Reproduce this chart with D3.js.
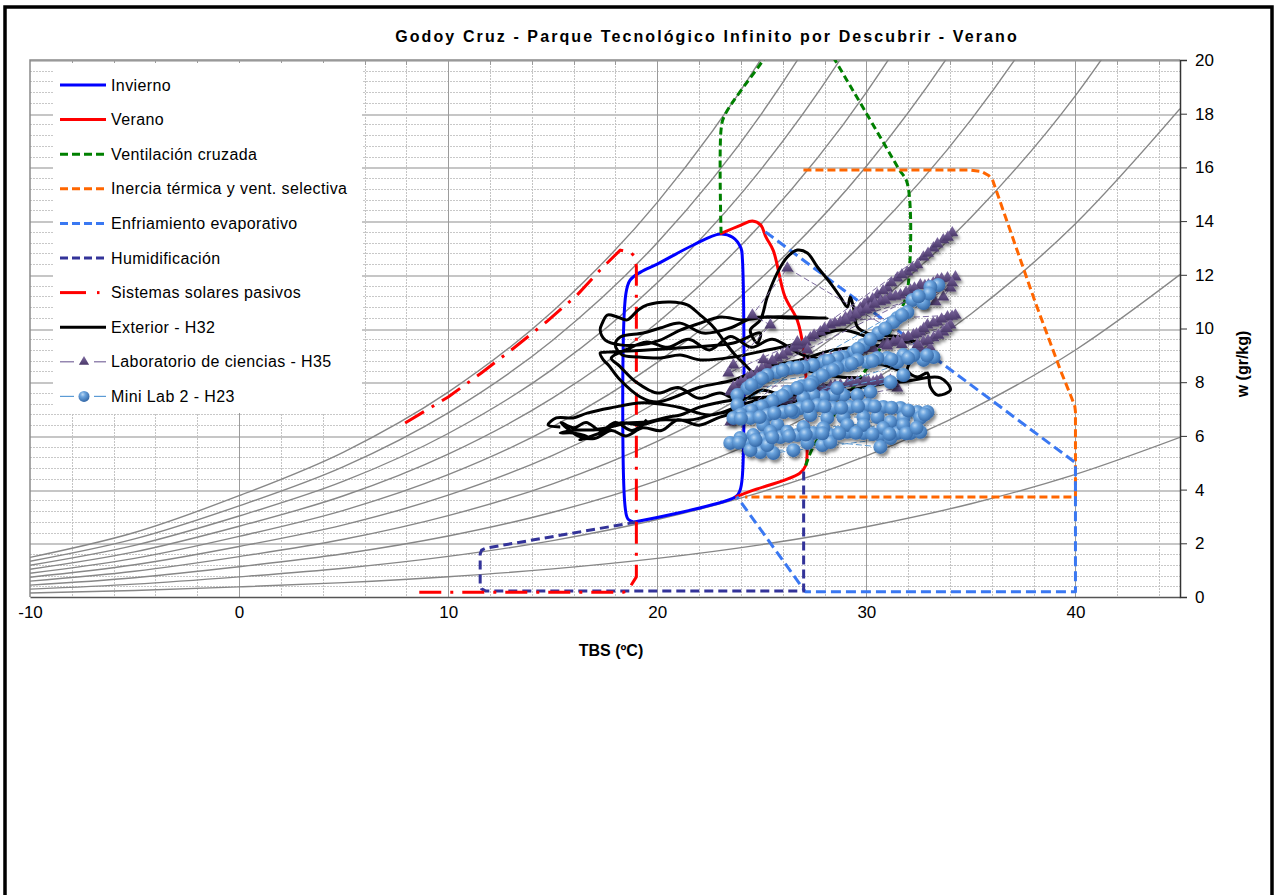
<!DOCTYPE html>
<html>
<head>
<meta charset="utf-8">
<script src="https://cdn.jsdelivr.net/npm/d3@7"></script>
<style>
  body { margin: 0; background: #fff; }
  text { font-family: "Liberation Sans", Arial, sans-serif; }
</style>
</head>
<body>
<svg id="chart" width="1277" height="895"></svg>
<script>
// Psicrometrico - Godoy Cruz, verano

const chartTitle = "Godoy Cruz - Parque Tecnológico Infinito por Descubrir - Verano";
const xTicks = [-10, 0, 10, 20, 30, 40];
const yTicks = [0, 2, 4, 6, 8, 10, 12, 14, 16, 18, 20];

// curvas de humedad relativa (10% .. 100%)
const rhLevels = [0.1, 0.2, 0.3, 0.4, 0.5, 0.6, 0.7, 0.8, 0.9, 1.0];
const satTemp = [-10, -5, 0, 5, 10, 15, 20, 25, 30, 35, 40, 45];
const satPressure = [0.24, 0.39, 0.611, 0.872, 1.228, 1.705, 2.339, 3.169, 4.246, 5.628, 7.384, 9.593]; // kPa
const atmPressure = 101.325;

// zonas de confort / estrategias  [TBS, w]
const invierno = [[18.9, 2.79], [18.6, 2.9], [18.47, 3.3], [18.5, 11.3], [18.7, 11.8], [19.2, 12.1], [20.0, 12.4],
  [21.7, 13.1], [23.0, 13.52], [23.6, 13.4], [24.0, 13.0], [24.07, 12.6], [24.07, 4.5], [23.95, 3.95], [23.73, 3.72], [18.9, 2.79]];
const verano = [[23.0, 13.52], [24.0, 13.85], [24.55, 14.0], [24.95, 13.85], [25.2, 13.4], [25.55, 12.9], [26.1, 11.2],
  [26.7, 10.3], [27.0, 9.2], [27.15, 7.5], [27.17, 5.7], [27.1, 4.9], [26.8, 4.6], [24.5, 3.95], [23.73, 3.72]];
const ventilacion = [[27.1, 4.9], [27.46, 5.59], [29.38, 7.82], [30.53, 9.09], [31.6, 10.6], [31.96, 11.4], [31.96, 15.4],
  [31.53, 15.97], [29.86, 18.2], [28.5, 20.0], [26.93, 22.1], [25.07, 20.0], [23.2, 17.9], [23.05, 17.4], [23.05, 13.55]];
const inercia = [[26.99, 15.9], [35.0, 15.9], [35.5, 15.85], [35.85, 15.7], [36.05, 15.5], [38.09, 10.95], [39.28, 8.45],
  [39.8, 7.45], [39.97, 7.1], [40.0, 6.9], [40.0, 3.72], [24.2, 3.72]];
const enfriamiento = [[25.17, 13.6], [40.0, 5.0], [40.0, 0.2], [27.08, 0.2], [23.8, 3.75]];
const humidificacion = [[19.0, 2.79], [11.8, 1.82], [11.6, 1.75], [11.53, 1.6], [11.53, 0.45], [11.6, 0.3], [11.8, 0.22],
  [27.0, 0.22], [27.0, 4.8]];
const solares = [[7.94, 6.48], [10.0, 7.45], [11.6, 8.35], [13.2, 9.31], [14.7, 10.25], [16.17, 11.25], [17.27, 12.18],
  [18.23, 12.92], [18.75, 12.82], [18.95, 12.65], [19.0, 12.3], [19.0, 0.75], [18.6, 0.25], [18.4, 0.18], [8.42, 0.18]];

// mediciones
const exterior = [[15.36, 6.33], [14.78, 6.41], [15.17, 6.67], [15.98, 6.67], [16.65, 6.85], [17.75, 7.04], [19.33, 7.23],
  [20.96, 7.08], [22.54, 6.78], [24.31, 7.23], [25.89, 7.52], [28.28, 7.90], [31.63, 8.01], [33.54, 8.16], [34.02, 7.71],
  [33.40, 7.52], [33.06, 7.82], [32.92, 8.34], [32.44, 8.19], [31.96, 8.45], [32.25, 8.94], [32.58, 9.46], [31.00, 9.39],
  [28.42, 9.20], [26.84, 8.83], [25.26, 8.57], [23.64, 8.08], [22.06, 7.82], [20.00, 7.26], [19.19, 7.45], [18.23, 8.08],
  [17.66, 8.64], [17.42, 8.83], [17.27, 9.09], [17.61, 9.12], [19.52, 9.20], [21.72, 9.31], [23.64, 9.46], [24.93, 9.83],
  [24.78, 9.46], [24.45, 9.94], [24.93, 10.32], [25.26, 11.17], [25.74, 12.07], [26.22, 12.66], [26.70, 12.92],
  [27.18, 12.81], [27.66, 12.29], [28.28, 11.69], [28.76, 11.17], [29.09, 10.80], [29.23, 11.17], [29.38, 10.80],
  [29.57, 10.06], [30.05, 9.83], [31.63, 9.68], [30.67, 9.57], [28.76, 9.94], [26.84, 9.46], [25.26, 9.20], [23.64, 8.94],
  [22.06, 8.83], [21.10, 9.01], [20.14, 8.90], [19.04, 8.94], [18.33, 9.01], [17.99, 9.39], [18.23, 9.68], [19.33, 9.83],
  [20.14, 10.02], [21.10, 10.20], [22.20, 9.83], [23.49, 10.02], [24.59, 10.39], [26.51, 10.39], [28.13, 10.39],
  [25.26, 10.43], [24.11, 10.32], [23.01, 10.43], [22.06, 10.20], [21.10, 9.94], [20.14, 9.57], [19.19, 9.39],
  [18.23, 9.39], [17.51, 9.57], [17.27, 9.94], [17.37, 10.20], [17.61, 10.50], [18.09, 10.43], [18.56, 10.32],
  [19.09, 10.69], [19.52, 10.88], [20.62, 10.99], [21.44, 10.88], [22.06, 10.50], [22.68, 10.06], [23.16, 9.57],
  [23.64, 9.09], [24.07, 8.75], [24.93, 8.19], [26.22, 8.57], [27.66, 8.34], [28.76, 8.19], [30.05, 8.08], [30.19, 7.64],
  [28.28, 7.45], [26.84, 7.52], [25.26, 7.45], [23.64, 7.34], [22.06, 7.08], [21.10, 6.78], [20.48, 6.70], [19.52, 6.52],
  [18.56, 6.48], [17.75, 6.33], [16.94, 6.22], [16.17, 6.22], [15.36, 6.11], [15.98, 6.11], [16.65, 5.96], [16.3, 5.85],
  [17.27, 6.11], [18.23, 6.48], [19.19, 6.41], [20.14, 6.59], [21.58, 6.59], [23.01, 6.85], [24.45, 6.96], [25.89, 7.15],
  [26.84, 7.34], [28.5, 7.6], [30.5, 7.9], [32.0, 8.2], [31.0, 8.6], [29.0, 8.8], [27.0, 9.0], [25.5, 9.6], [24.5, 9.3],
  [23.5, 9.7], [22.5, 9.2], [21.5, 9.6], [20.5, 9.3], [19.5, 9.5], [18.5, 9.2], [17.8, 8.9], [18.2, 8.6], [19.0, 8.0],
  [20.0, 7.6], [21.0, 7.8], [22.0, 7.4], [23.0, 7.6], [24.0, 7.3], [25.0, 7.7], [26.0, 7.4], [24.5, 7.0], [23.0, 6.7],
  [22.0, 6.4], [21.0, 6.6], [20.2, 6.2], [19.3, 6.3], [18.5, 6.0], [17.8, 6.2], [17.0, 5.9], [16.2, 6.0], [15.4, 6.5],
  [16.0, 6.3], [16.6, 6.5], [17.3, 6.2], [18.0, 6.5], [18.8, 6.2], [19.5, 6.6]];

const laboratorio = [
  [34.11, 13.56], [33.68, 13.30], [33.21, 13.00], [32.73, 12.66], [32.44, 12.37], [31.96, 12.10], [31.48, 11.88],
  [31.00, 11.51], [30.53, 11.25], [30.05, 10.99], [29.71, 10.76], [29.23, 10.50], [28.76, 10.24], [28.28, 10.13],
  [27.80, 9.87], [27.32, 9.65], [26.99, 9.39], [26.51, 9.27], [26.22, 9.12], [25.74, 8.90], [25.26, 8.64], [24.78, 8.38],
  [24.31, 8.16], [23.83, 7.90], [23.49, 7.64],
  [33.9, 13.4], [33.4, 13.15], [32.95, 12.8], [32.2, 12.25], [31.7, 12.0], [31.2, 11.7], [30.8, 11.4], [30.3, 11.1],
  [29.9, 10.9], [29.5, 10.6], [29.0, 10.4], [28.5, 10.2], [28.0, 10.0], [27.5, 9.75], [27.1, 9.5], [26.7, 9.35],
  [26.0, 9.0], [25.5, 8.8], [25.0, 8.5], [24.5, 8.25], [24.0, 8.0],
  [34.26, 11.92], [33.88, 11.88], [33.40, 11.81], [32.97, 11.62], [32.58, 11.62], [32.11, 11.43], [31.63, 11.25],
  [31.15, 11.17], [30.67, 10.99], [30.19, 10.76], [29.71, 10.61], [29.23, 10.39], [28.76, 10.24], [34.02, 11.51],
  [33.68, 11.17], [33.30, 10.99], [32.73, 10.88],
  [34.1, 11.7], [33.6, 11.85], [33.2, 11.7], [32.8, 11.6], [32.3, 11.5], [31.9, 11.35], [31.4, 11.2], [30.9, 11.05],
  [30.4, 10.9], [30.0, 10.7], [29.5, 10.5], [29.0, 10.3],
  [34.26, 10.50], [33.88, 10.43], [33.40, 10.24], [32.92, 10.13], [32.58, 9.87], [32.25, 9.76], [31.77, 9.65],
  [31.29, 9.50], [30.81, 9.39], [34.02, 10.13], [33.68, 9.87], [33.21, 9.65], [32.73, 9.50], [33.06, 9.27], [32.58, 9.27],
  [34.1, 10.45], [33.6, 10.35], [33.2, 10.2], [32.75, 10.0], [32.4, 9.8], [32.0, 9.7], [31.5, 9.55], [31.0, 9.45],
  [33.85, 10.0], [33.45, 9.75], [32.95, 9.55],
  [30.3, 9.3], [29.8, 9.2], [29.3, 9.1], [28.8, 9.0], [28.3, 8.9], [27.8, 8.8], [27.3, 8.7], [26.8, 8.6],
  [23.49, 6.52], [23.97, 6.78], [24.3, 6.9], [24.78, 7.04], [25.1, 7.1], [25.55, 7.23], [26.0, 7.3], [26.36, 7.41],
  [26.8, 7.5], [27.18, 7.64], [27.5, 7.7], [27.94, 7.78], [28.3, 7.85], [28.76, 7.90], [29.1, 7.95], [29.57, 8.01],
  [29.9, 8.05], [30.33, 8.01], [30.7, 8.1], [31.15, 8.08], [31.48, 7.78],
  [23.7, 6.65], [24.5, 6.95], [25.3, 7.15], [26.2, 7.35], [27.0, 7.55], [27.7, 7.75], [28.5, 7.88], [29.3, 7.98],
  [30.1, 8.03], [30.5, 8.05], [31.3, 7.95],
  [23.64, 7.82], [24.2, 8.0], [24.78, 8.16], [25.5, 8.35], [26.36, 8.53], [27.1, 8.7], [27.94, 8.90], [28.7, 9.0],
  [29.57, 9.12], [30.3, 9.25], [31.0, 9.35], [31.7, 9.4], [32.44, 9.39],
  [26.22, 12.25], [24.55, 10.50], [25.41, 10.13], [23.64, 8.64], [23.40, 8.34], [26.70, 9.50], [27.18, 9.20], [25.07, 8.83]];

const miniLab = [
  [33.44, 11.62], [33.06, 11.55], [32.20, 11.06], [32.73, 10.95], [31.96, 10.61], [31.48, 10.39], [31.29, 10.24],
  [30.57, 9.83], [29.86, 9.39], [29.38, 9.12], [28.90, 8.94], [28.61, 8.90], [27.94, 8.75], [27.46, 8.64], [26.99, 8.57],
  [26.36, 8.53], [25.74, 8.38], [25.26, 8.27], [24.78, 8.01], [24.31, 7.78], [23.83, 7.52], [23.83, 7.15],
  [33.0, 11.3], [32.5, 11.2], [31.7, 10.5], [30.9, 10.0], [30.2, 9.6], [29.6, 9.25], [28.2, 8.8], [26.7, 8.55],
  [26.0, 8.45], [25.0, 8.15], [24.5, 7.9],
  [33.21, 8.94], [32.73, 8.83], [32.25, 9.01], [31.77, 9.01], [31.48, 8.75], [31.00, 8.90], [30.53, 8.90], [30.05, 8.75],
  [29.57, 8.83], [29.09, 8.64], [28.61, 8.53], [28.13, 8.38], [27.66, 8.16], [27.18, 7.90], [26.70, 7.78], [26.22, 7.64],
  [25.74, 7.41], [25.26, 7.15], [24.78, 7.04], [24.31, 6.89], [23.83, 6.70],
  [32.9, 9.0], [32.0, 8.9], [31.2, 8.85], [30.3, 8.8], [29.3, 8.7], [28.4, 8.45], [27.9, 8.25], [27.4, 8.0], [26.9, 7.85],
  [26.0, 7.5], [25.5, 7.3], [25.0, 7.1], [24.5, 6.95], [24.0, 6.8],
  [30.19, 7.64], [29.57, 7.52], [28.90, 7.52], [28.42, 7.52], [27.94, 7.45], [27.46, 7.52], [26.99, 7.41], [26.70, 7.78],
  [27.32, 7.90], [28.61, 7.78], [31.77, 8.27], [31.15, 8.01],
  [23.64, 6.67], [24.45, 6.67], [25.26, 6.78], [26.03, 6.89], [26.84, 7.04], [27.66, 7.15], [28.42, 7.04], [29.23, 7.08],
  [30.05, 7.15], [30.81, 7.08], [31.63, 7.04], [32.44, 6.89], [32.92, 6.89], [32.58, 6.67], [31.77, 6.67], [31.15, 6.52],
  [30.53, 6.70], [29.86, 6.70], [28.90, 6.70], [28.13, 6.67], [27.32, 6.78], [26.51, 6.89], [25.74, 6.41], [25.07, 6.41],
  [24.0, 6.65], [24.9, 6.7], [25.6, 6.85], [26.4, 6.95], [27.2, 7.1], [28.0, 7.1], [28.8, 7.05], [29.6, 7.1], [30.4, 7.1],
  [31.2, 7.05], [32.0, 6.95], [32.8, 6.8],
  [23.49, 5.74], [24.31, 5.77], [25.07, 5.92], [25.89, 5.96], [26.70, 6.03], [27.46, 6.11], [28.28, 6.03], [29.09, 6.15],
  [29.86, 6.11], [30.67, 6.03], [31.48, 6.11], [32.11, 6.11], [32.58, 6.15], [31.77, 6.41], [30.81, 6.29], [29.86, 6.41],
  [29.09, 6.41], [27.94, 6.29], [26.99, 6.33], [26.22, 6.15], [25.41, 6.15], [24.59, 6.03], [23.97, 5.92], [24.93, 5.40],
  [24.45, 5.47], [26.51, 5.47], [27.18, 5.74], [27.89, 5.66], [28.28, 5.77], [30.67, 5.59], [31.15, 5.92], [25.55, 5.36],
  [25.26, 5.66],
  [23.9, 5.75], [24.7, 5.85], [25.5, 5.95], [26.3, 6.0], [27.1, 6.05], [27.9, 6.1], [28.7, 6.1], [29.5, 6.12], [30.3, 6.07],
  [31.1, 6.07], [31.9, 6.1], [32.4, 6.3]];

// ---------------------------------------------------------------

const svg = d3.select("#chart");
const plotLeft = 30, plotRight = 1180, plotTop = 60, plotBottom = 597;

const x = d3.scaleLinear().domain([-10, 45]).range([plotLeft, plotRight]);
const y = d3.scaleLinear().domain([0, 20]).range([plotBottom, plotTop]);
const snap = v => Math.round(v) + 0.5;

const defs = svg.append("defs");
defs.append("clipPath").attr("id", "plotClip")
  .append("rect")
  .attr("x", plotLeft).attr("y", plotTop)
  .attr("width", plotRight - plotLeft).attr("height", plotBottom - plotTop);

const shadow = defs.append("filter").attr("id", "shadow")
  .attr("x", "-50%").attr("y", "-50%").attr("width", "200%").attr("height", "200%");
shadow.append("feDropShadow")
  .attr("dx", 2).attr("dy", 3).attr("stdDeviation", 1.8)
  .attr("flood-color", "#000").attr("flood-opacity", 0.45);

const sphere = defs.append("radialGradient").attr("id", "sphereGrad")
  .attr("cx", "38%").attr("cy", "32%").attr("r", "68%");
sphere.append("stop").attr("offset", "0%").attr("stop-color", "#bcd8f3");
sphere.append("stop").attr("offset", "35%").attr("stop-color", "#6aa3dd");
sphere.append("stop").attr("offset", "100%").attr("stop-color", "#3569a8");

const tri = defs.append("linearGradient").attr("id", "triGrad")
  .attr("x1", 0).attr("y1", 0).attr("x2", 0).attr("y2", 1);
tri.append("stop").attr("offset", "0%").attr("stop-color", "#806ca3");
tri.append("stop").attr("offset", "100%").attr("stop-color", "#4a3869");

// marco exterior
svg.append("rect")
  .attr("x", 5).attr("y", 7).attr("width", 1267).attr("height", 900)
  .attr("fill", "#fff").attr("stroke", "#000").attr("stroke-width", 3.5);

// titulo
svg.append("text")
  .attr("x", 707).attr("y", 42)
  .attr("text-anchor", "middle")
  .style("font-size", "16px").style("font-weight", "bold").style("letter-spacing", "2.1px")
  .text(chartTitle);

// grilla
const grid = svg.append("g").attr("shape-rendering", "crispEdges");
grid.selectAll(".hminor")
  .data(d3.range(0.4, 20, 0.4).filter(v => Math.abs(v / 2 - Math.round(v / 2)) > 0.01))
  .enter().append("line")
  .attr("x1", plotLeft).attr("x2", plotRight)
  .attr("y1", d => snap(y(d))).attr("y2", d => snap(y(d)))
  .attr("stroke", "#c8c8c8").attr("stroke-width", 1).attr("stroke-dasharray", "2,1");
grid.selectAll(".hmajor")
  .data(yTicks.slice(1))
  .enter().append("line")
  .attr("x1", plotLeft).attr("x2", plotRight)
  .attr("y1", d => snap(y(d))).attr("y2", d => snap(y(d)))
  .attr("stroke", "#c6c6c6").attr("stroke-width", 2);
grid.selectAll(".vminor")
  .data(d3.range(-8, 45, 2).filter(v => v % 10 !== 0))
  .enter().append("line")
  .attr("x1", d => snap(x(d))).attr("x2", d => snap(x(d)))
  .attr("y1", plotTop).attr("y2", plotBottom)
  .attr("stroke", "#c4c4c4").attr("stroke-width", 1).attr("stroke-dasharray", "2,1");
grid.selectAll(".vmajor")
  .data(xTicks.slice(1))
  .enter().append("line")
  .attr("x1", d => snap(x(d))).attr("x2", d => snap(x(d)))
  .attr("y1", plotTop).attr("y2", plotBottom)
  .attr("stroke", "#9c9c9c").attr("stroke-width", 1);

// borde superior / izquierdo del area
svg.append("path")
  .attr("d", `M${plotLeft},${plotBottom}V${plotTop}H${plotRight}`)
  .attr("fill", "none").attr("stroke", "#8a8a8a").attr("stroke-width", 1.5);
svg.selectAll(".topTick")
  .data(d3.range(-8, 45, 2))
  .enter().append("line")
  .attr("x1", d => snap(x(d))).attr("x2", d => snap(x(d)))
  .attr("y1", plotTop).attr("y2", d => plotTop + (d % 10 === 0 ? 7 : 5))
  .attr("stroke", "#9a9a9a").attr("stroke-width", 1);

const plot = svg.append("g").attr("clip-path", "url(#plotClip)");

// curvas HR
const rhLine = d3.line().x(d => x(d[0])).y(d => y(d[1])).curve(d3.curveMonotoneX);
rhLevels.forEach(rh => {
  const pts = satTemp.map((t, i) => {
    const pv = rh * satPressure[i];
    return [t, 622 * pv / (atmPressure - pv)];
  });
  plot.append("path")
    .datum(pts)
    .attr("d", rhLine)
    .attr("fill", "none")
    .attr("stroke", "#878787")
    .attr("stroke-width", 1.4);
});

// series
const series = [
  { name: "Invierno", data: invierno, color: "#0000ff", dash: null, smooth: true },
  { name: "Verano", data: verano, color: "#ff0000", dash: null, smooth: true },
  { name: "Ventilación cruzada", data: ventilacion, color: "#008000", dash: "7,4", smooth: true },
  { name: "Inercia térmica y vent. selectiva", data: inercia, color: "#ff6600", dash: "8,4" },
  { name: "Enfriamiento evaporativo", data: enfriamiento, color: "#3a78f2", dash: "10,5" },
  { name: "Humidificación", data: humidificacion, color: "#333399", dash: "9,5" },
  { name: "Sistemas solares pasivos", data: solares, color: "#ff0000", dash: "22,9,3,9" },
  { name: "Exterior - H32", data: exterior, color: "#000000", dash: null, smooth: true }
];

series.forEach(s => {
  const line = d3.line()
    .x(d => x(d[0])).y(d => y(d[1]))
    .curve(s.smooth ? d3.curveCatmullRom.alpha(0.5) : d3.curveLinear);
  plot.append("path")
    .datum(s.data)
    .attr("d", line)
    .attr("fill", "none")
    .attr("stroke", s.color)
    .attr("stroke-width", 3)
    .attr("stroke-linejoin", "round")
    .attr("stroke-dasharray", s.dash);
});

// laboratorio de ciencias
const plainLine = d3.line().x(d => x(d[0])).y(d => y(d[1]));
plot.append("path")
  .datum(laboratorio)
  .attr("d", plainLine)
  .attr("fill", "none")
  .attr("stroke", "#7b6a9e").attr("stroke-width", 1).attr("stroke-dasharray", "6,3");
plot.append("g").attr("filter", "url(#shadow)")
  .selectAll(".tri")
  .data(laboratorio)
  .enter().append("path")
  .attr("transform", d => "translate(" + x(d[0]) + "," + y(d[1]) + ")")
  .attr("d", d3.symbol().type(d3.symbolTriangle).size(62))
  .attr("fill", "url(#triGrad)");

// mini lab 2
plot.append("path")
  .datum(miniLab)
  .attr("d", plainLine)
  .attr("fill", "none")
  .attr("stroke", "#5b9bd5").attr("stroke-width", 1).attr("stroke-dasharray", "6,3");
plot.append("g").attr("filter", "url(#shadow)")
  .selectAll(".sphere")
  .data(miniLab)
  .enter().append("circle")
  .attr("cx", d => x(d[0]))
  .attr("cy", d => y(d[1]))
  .attr("r", 7)
  .attr("fill", "url(#sphereGrad)");

// ejes
const xAxis = svg.append("g")
  .attr("transform", "translate(0," + plotBottom + ")")
  .call(d3.axisBottom(x).tickValues(xTicks).tickFormat(d => String(d)).tickSize(0).tickPadding(9));
xAxis.select(".domain").attr("stroke", "#555").attr("stroke-width", 1.5);
xAxis.selectAll("text").style("font-size", "17px").attr("fill", "#000")
  .style("font-family", "'Liberation Sans', Arial, sans-serif");

const yAxis = svg.append("g")
  .attr("transform", "translate(" + plotRight + ",0)")
  .call(d3.axisRight(y).tickValues(yTicks).tickFormat(d => String(d)).tickSize(7).tickPadding(8));
yAxis.select(".domain").attr("stroke", "#333").attr("stroke-width", 1.5);
yAxis.selectAll(".tick line").attr("stroke", "#333");
yAxis.selectAll("text").style("font-size", "17px").attr("fill", "#000")
  .style("font-family", "'Liberation Sans', Arial, sans-serif");

svg.append("text")
  .attr("x", 611).attr("y", 656)
  .attr("text-anchor", "middle")
  .style("font-size", "16px").style("font-weight", "bold")
  .text("TBS (ºC)");

svg.append("text")
  .attr("transform", "translate(1248,364) rotate(-90)")
  .attr("text-anchor", "middle")
  .style("font-size", "16px").style("font-weight", "bold")
  .text("w (gr/kg)");

// leyenda
const legend = svg.append("g");
legend.append("rect")
  .attr("x", 53).attr("y", 63).attr("width", 309).attr("height", 350)
  .attr("fill", "#fff");

const legendItems = series.map(s => ({ name: s.name, color: s.color, dash: s.dash, kind: "line" }))
  .concat([
    { name: "Laboratorio de ciencias - H35", color: "#7b6a9e", kind: "tri" },
    { name: "Mini Lab 2 - H23", color: "#5b9bd5", kind: "sphere" }
  ]);

legendItems.forEach((item, i) => {
  const ly = 85 + i * 34.6;
  const g = legend.append("g");
  if (item.kind === "line") {
    if (item.name === "Sistemas solares pasivos") {
      g.append("line").attr("x1", 60).attr("x2", 86).attr("y1", ly).attr("y2", ly)
        .attr("stroke", item.color).attr("stroke-width", 3);
      g.append("line").attr("x1", 97).attr("x2", 99.5).attr("y1", ly).attr("y2", ly)
        .attr("stroke", item.color).attr("stroke-width", 3);
    } else {
      g.append("line").attr("x1", 60).attr("x2", 106).attr("y1", ly).attr("y2", ly)
        .attr("stroke", item.color).attr("stroke-width", 3)
        .attr("stroke-dasharray", item.dash ? "8,4" : null);
    }
  } else {
    g.append("line").attr("x1", 60).attr("x2", 74).attr("y1", ly).attr("y2", ly)
      .attr("stroke", item.color).attr("stroke-width", 1.2);
    g.append("line").attr("x1", 94).attr("x2", 106).attr("y1", ly).attr("y2", ly)
      .attr("stroke", item.color).attr("stroke-width", 1.2);
    if (item.kind === "tri") {
      g.append("path")
        .attr("transform", "translate(84," + ly + ")")
        .attr("d", d3.symbol().type(d3.symbolTriangle).size(45))
        .attr("fill", "url(#triGrad)");
    } else {
      g.append("circle").attr("cx", 84).attr("cy", ly).attr("r", 5.5)
        .attr("fill", "url(#sphereGrad)");
    }
  }
  g.append("text")
    .attr("x", 111).attr("y", ly).attr("dy", "0.35em")
    .style("font-size", "16px").style("letter-spacing", "0.4px")
    .text(item.name);
});
</script>
</body>
</html>
